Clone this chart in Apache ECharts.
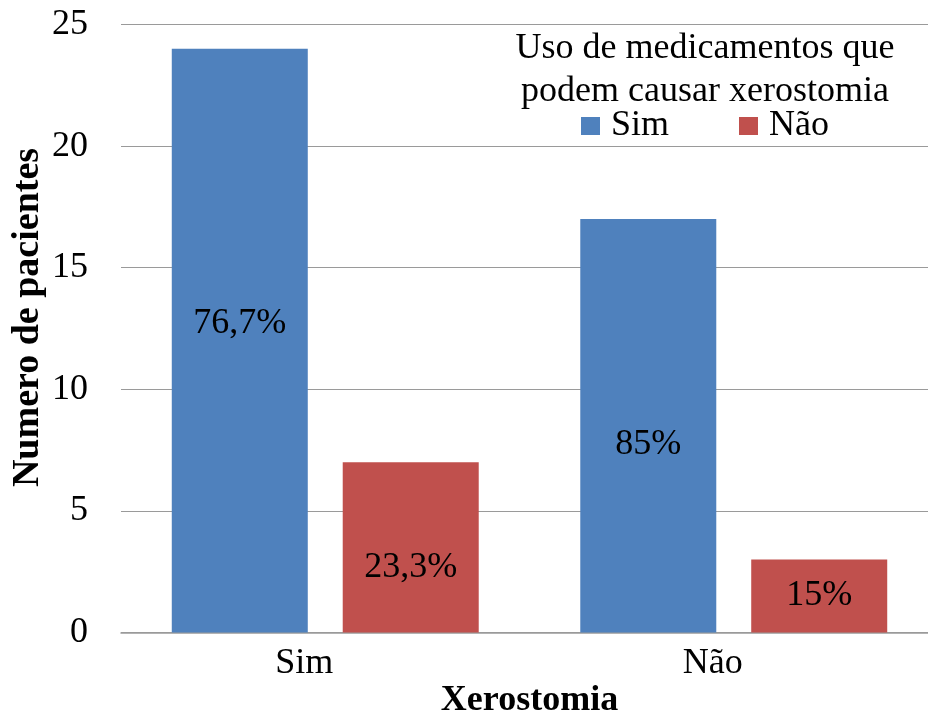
<!DOCTYPE html>
<html>
<head>
<meta charset="utf-8">
<script src="https://cdn.jsdelivr.net/npm/echarts@6/dist/echarts.min.js"></script>
<style>
  html, body { margin: 0; padding: 0; background: #fff; }
  #chart { width: 928px; height: 716px; }
</style>
</head>
<body>
<div id="chart"></div>
<script>
// Patients grouped by xerostomia, split by use of xerostomia-causing drugs
const categories = ['Sim', 'Não'];
const seriesNames = ['Sim', 'Não'];
const valuesSim = [24, 17];
const valuesNao = [7, 3];
const pctSim = ['76,7%', '85%'];
const pctNao = ['23,3%', '15%'];
const yTicks = [0, 5, 10, 15, 20, 25];

const FONT = '"Liberation Serif", "Times New Roman", serif';
const GRID_COLOR = '#9a9a9a';

// vertical nudges for the percentage labels inside each bar
const nudgeSim = [-17, 19];
const nudgeNao = [20, 0];

function buildSeries(name, values, pcts, nudges, color) {
  return {
    name: name,
    type: 'bar',
    barWidth: 136,
    barGap: '25.7%',
    itemStyle: { color: color },
    label: {
      show: true,
      position: 'inside',
      fontFamily: FONT,
      fontSize: 36,
      color: '#000'
    },
    data: values.map((v, i) => ({
      value: v,
      label: { formatter: pcts[i], offset: [0, nudges[i]] }
    }))
  };
}

const chart = echarts.init(document.getElementById('chart'), null, { renderer: 'canvas' });
chart.setOption({
  animation: false,
  backgroundColor: '#fff',
  textStyle: { fontFamily: FONT },
  title: {
    text: 'Uso de medicamentos que\npodem causar xerostomia',
    left: 700,
    top: 22,
    textAlign: 'center',
    textStyle: {
      fontFamily: FONT,
      fontSize: 36,
      fontWeight: 'normal',
      color: '#000',
      lineHeight: 43
    }
  },
  legend: {
    data: seriesNames,
    left: 581,
    top: 108,
    padding: 0,
    itemWidth: 19,
    itemHeight: 18,
    itemGap: 70,
    icon: 'rect',
    textStyle: {
      fontFamily: FONT,
      fontSize: 36,
      color: '#000',
      padding: [0, 0, 0, 6]
    }
  },
  grid: {
    left: 121,
    right: -10,
    top: 24.5,
    bottom: 83.5,
    containLabel: false,
    outerBoundsMode: 'none'
  },
  xAxis: {
    type: 'category',
    data: categories,
    name: 'Xerostomia',
    nameLocation: 'middle',
    nameGap: 50,
    nameMoveOverlap: false,
    nameTextStyle: {
      fontFamily: FONT,
      fontSize: 36,
      fontWeight: 'bold',
      color: '#000'
    },
    axisLine: { lineStyle: { color: GRID_COLOR, width: 1.5 } },
    axisTick: { show: false },
    axisLabel: {
      fontFamily: FONT,
      fontSize: 36,
      color: '#000',
      margin: 13,
      padding: [0, 42, 0, 0]
    }
  },
  yAxis: {
    type: 'value',
    min: yTicks[0],
    max: yTicks[yTicks.length - 1],
    interval: yTicks[1] - yTicks[0],
    name: 'Numero de pacientes',
    nameLocation: 'middle',
    nameRotate: 90,
    nameGap: 74,
    nameMoveOverlap: false,
    nameTextStyle: {
      fontFamily: FONT,
      fontSize: 38,
      fontWeight: 'bold',
      color: '#000',
      padding: [0, 0, 0, 22]
    },
    axisLine: { show: false },
    axisTick: { show: false },
    axisLabel: {
      fontFamily: FONT,
      fontSize: 36,
      color: '#000',
      margin: 33
    },
    splitLine: { lineStyle: { color: GRID_COLOR, width: 1 } }
  },
  series: [
    buildSeries(seriesNames[0], valuesSim, pctSim, nudgeSim, '#4F81BD'),
    buildSeries(seriesNames[1], valuesNao, pctNao, nudgeNao, '#C0504D')
  ]
});
</script>
</body>
</html>
